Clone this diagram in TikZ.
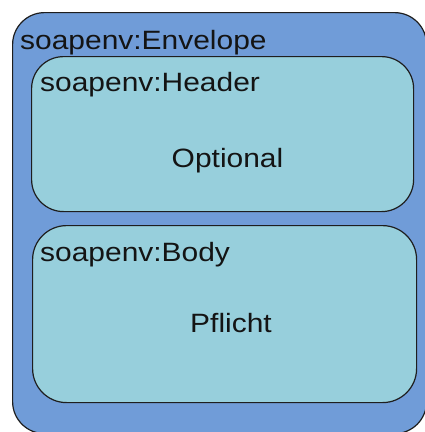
\documentclass[tikz,border=0pt]{standalone}
\usepackage{fontspec}
\usepackage{graphicx}
\setmainfont{Liberation Sans}
\definecolor{envblue}{RGB}{112,156,216}
\definecolor{partcyan}{RGB}{151,207,220}
\definecolor{edge}{RGB}{30,30,30}
\tikzset{
  panel/.style={draw=edge, line width=1.2pt, rounded corners=#1, inner sep=0pt},
  label/.style={inner sep=0pt, font=\fontsize{26.5}{30}\selectfont, text=black!92},
}
\newcommand{\wide}[1]{\scalebox{1.13}[1]{#1}}
\begin{document}
\begin{tikzpicture}[x=1pt,y=-1pt]
  \useasboundingbox (0,0) rectangle (425,432);
  \begin{scope}
    \clip (0,0) rectangle (425,432);
    % outer envelope
    \node[panel=32, fill=envblue, minimum width=414pt, minimum height=421pt, anchor=north west] (envelope) at (12,12) {};
  \end{scope}
  % header and body parts
  \node[panel=32, fill=partcyan, minimum width=382pt, minimum height=155pt, anchor=north west] (header) at (31,56) {};
  \node[panel=34, fill=partcyan, minimum width=384pt, minimum height=177pt, anchor=north west] (body) at (32,225) {};
  % titles
  \node[label, anchor=base west] (envtitle) at (20,49) {\wide{soapenv:Envelope}};
  \node[label, anchor=base west] (headtitle) at (40,91) {\wide{soapenv:Header}};
  \node[label, anchor=base west] (bodytitle) at (40,261) {\wide{soapenv:Body}};
  % contents
  \node[label, anchor=base] (optional) at (227.5,167) {\wide{Optional}};
  \node[label, anchor=base] (pflicht) at (231,332) {\wide{Pflicht}};
\end{tikzpicture}
\end{document}
